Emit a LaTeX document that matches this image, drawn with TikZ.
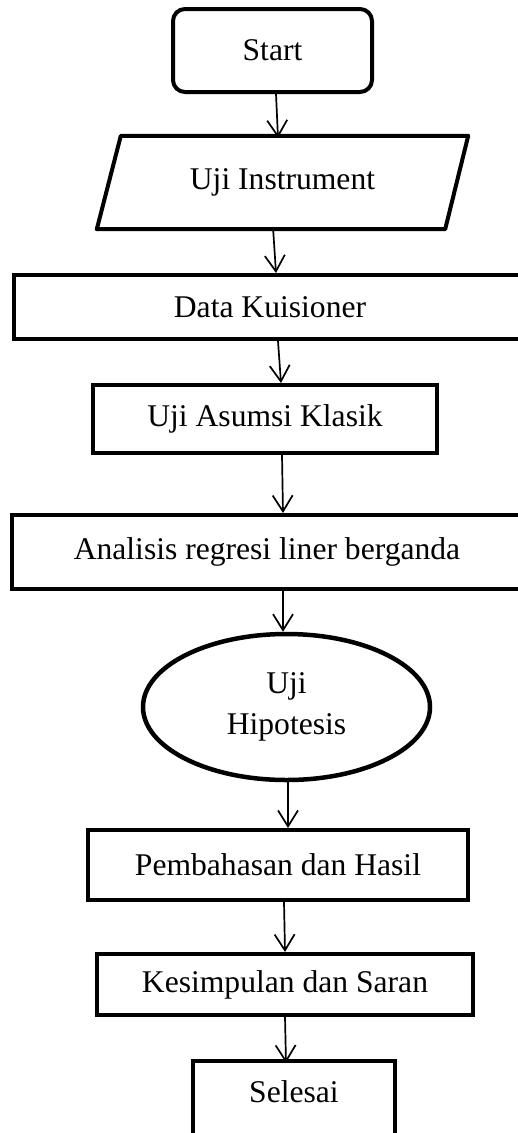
\documentclass[tikz,border=0pt]{standalone}
\usepackage{fontspec}
\setmainfont{Liberation Serif}
\usetikzlibrary{arrows.meta,shapes.geometric}
\begin{document}
\begin{tikzpicture}[x=1pt,y=-1pt,
  txt/.style={font=\fontsize{31.6}{41}\selectfont, align=center},
  box/.style={txt, draw, line width=4pt, inner sep=0pt},
  plain/.style={txt, inner sep=0pt},
  arr/.style={line width=1.7pt, -{Straight Barb[length=16pt,width=20pt,line width=1.7pt]}}]
\useasboundingbox (0,0) rectangle (518,1133);
\clip (0,0) rectangle (518,1133);

\node[box, rounded corners=12pt, minimum width=199pt, minimum height=83pt] (start) at (272.5,50.5) {Start};

\node[plain, minimum width=371pt, minimum height=93pt] (ui) at (282.5,182.5) {Uji Instrument};
\draw[line width=4pt, line join=round] ([xshift=24pt]ui.north west) -- (ui.north east) -- ([xshift=-23pt]ui.south east) -- (ui.south west) -- cycle;

\node[box, minimum width=512pt, minimum height=64pt] (dk) at (270,307) {Data Kuisioner};
\node[box, minimum width=344pt, minimum height=68pt] (uak) at (265,419) {Uji Asumsi Klasik};
\node[box, minimum width=510pt, minimum height=74pt] (an) at (267,552) {Analisis regresi liner berganda};
\node[box, ellipse, line width=4.5pt, minimum width=287pt, minimum height=146pt] (hip) at (286.5,707) {Uji\\Hipotesis};
\node[box, minimum width=380pt, minimum height=70pt] (pem) at (278,865) {Pembahasan dan Hasil};
\node[box, minimum width=376pt, minimum height=61pt] (kes) at (285,984.5) {Kesimpulan dan Saran};

\node[plain, minimum width=202pt, minimum height=62pt] (sel) at (294,1092) {Selesai};
\draw[line width=4pt] ([yshift=-40pt]sel.south west) -- (sel.north west) -- (sel.north east) -- ([yshift=-40pt]sel.south east);

\draw[arr] ([xshift=3.5pt]start.south) -- ([xshift=-4.5pt,yshift=-2pt]ui.north);
\draw[arr] ([xshift=-9.5pt,yshift=2pt]ui.south) -- ([xshift=6pt]dk.north);
\draw[arr] ([xshift=8pt]dk.south) -- ([xshift=16pt]uak.north);
\draw[arr] ([xshift=17pt]uak.south) -- ([xshift=16pt]an.north);
\draw[arr] ([xshift=16pt]an.south) -- ([xshift=-3.5pt]hip.north);
\draw[arr] ([xshift=1.5pt]hip.south) -- ([xshift=10pt]pem.north);
\draw[arr] ([xshift=6pt]pem.south) -- (kes.north);
\draw[arr] (kes.south) -- ([xshift=-8pt,yshift=-2pt]sel.north);
\end{tikzpicture}
\end{document}
